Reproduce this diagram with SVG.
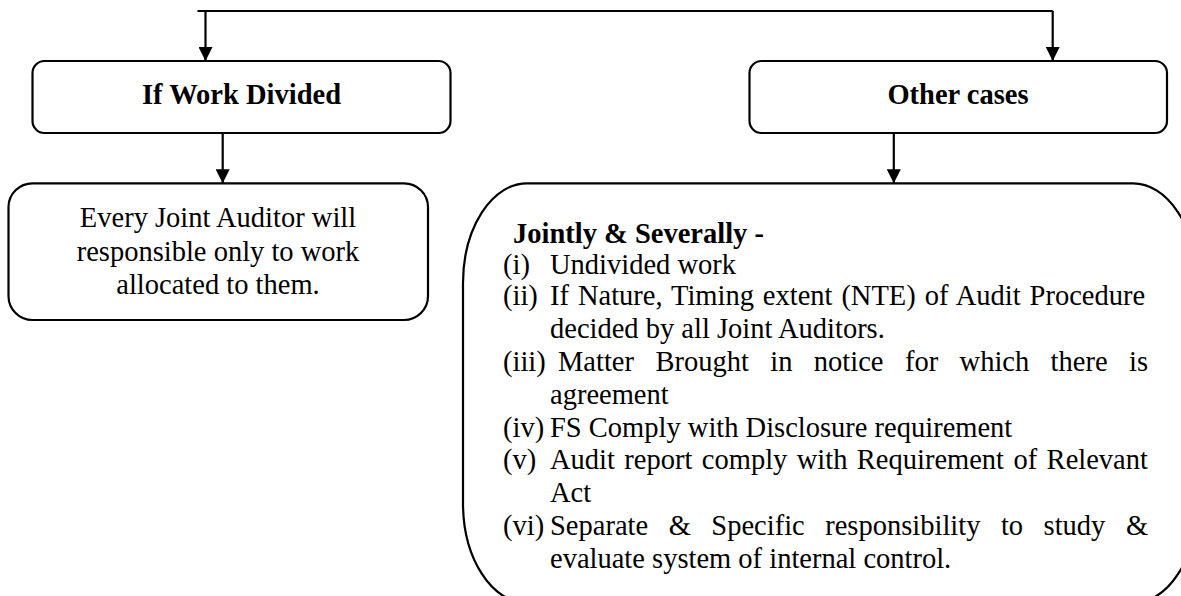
<svg xmlns="http://www.w3.org/2000/svg" width="1181" height="596" viewBox="0 0 1181 596">
<style>
.box{fill:#fff;stroke:#000;stroke-width:2.2}
.con{fill:none;stroke:#000;stroke-width:2.2}
text{font-family:"Liberation Serif","Times New Roman",serif;font-size:28.5px;fill:#000}
.b{font-weight:bold}
.c{text-anchor:middle}
</style>
<defs>
<marker id="ah" viewBox="0 0 14 14" markerWidth="14" markerHeight="14" refX="14" refY="7" orient="auto" markerUnits="userSpaceOnUse">
<path d="M0,0 L14,7 L0,14 Z" fill="#000"/>
</marker>
</defs>
<rect width="1181" height="596" fill="#fff"/>
<g id="connectors">
<path class="con" d="M197.5,11 H1052.7"/>
<path class="con" d="M205.5,11 V61" marker-end="url(#ah)"/>
<path class="con" d="M1052.7,11 V61" marker-end="url(#ah)"/>
<path class="con" d="M222.7,133 V183.3" marker-end="url(#ah)"/>
<path class="con" d="M893.8,133 V183.3" marker-end="url(#ah)"/>
</g>
<g id="node-work-divided">
<rect class="box" x="32.5" y="61" width="418" height="72" rx="12" ry="12"/>
<text class="b c" x="241.5" y="104">If Work Divided</text>
</g>
<g id="node-other-cases">
<rect class="box" x="749.5" y="61" width="417.5" height="72" rx="12" ry="12"/>
<text class="b c" x="958" y="104">Other cases</text>
</g>
<g id="node-every-joint">
<rect class="box" x="8.5" y="183.3" width="419.5" height="136.7" rx="24" ry="24"/>
<text class="c" x="218" y="227.3">Every Joint Auditor will</text>
<text class="c" x="218" y="260.5">responsible only to work</text>
<text class="c" x="218" y="294">allocated to them.</text>
</g>
<g id="node-jointly">
<path class="box" d="M527,183.3 H1133 A64,100 0 0 1 1197,283.3 V503 A64,100 0 0 1 1133,603 H527 A64,100 0 0 1 463,503 V283.3 A64,100 0 0 1 527,183.3 Z"/>
<text class="b" x="513" y="242.5">Jointly &amp; Severally -</text>
<text x="503" y="273.5">(i)</text>
<text x="550" y="273.5">Undivided work</text>
<text x="503" y="305">(ii)</text>
<text x="550" y="305" style="word-spacing:1.8px">If Nature, Timing extent (NTE) of Audit Procedure</text>
<text x="550" y="338">decided by all Joint Auditors.</text>
<text x="503" y="371">(iii)</text>
<text x="558" y="371" style="word-spacing:14.3px">Matter Brought in notice for which there is</text>
<text x="550" y="403.5">agreement</text>
<text x="503" y="436.5">(iv)</text>
<text x="550" y="436.5">FS Comply with Disclosure requirement</text>
<text x="503" y="469">(v)</text>
<text x="550" y="469" style="word-spacing:2.3px">Audit report comply with Requirement of Relevant</text>
<text x="550" y="502">Act</text>
<text x="503" y="535">(vi)</text>
<text x="550" y="535" style="word-spacing:13.4px">Separate &amp; Specific responsibility to study &amp;</text>
<text x="550" y="567.5">evaluate system of internal control.</text>
</g>
</svg>
